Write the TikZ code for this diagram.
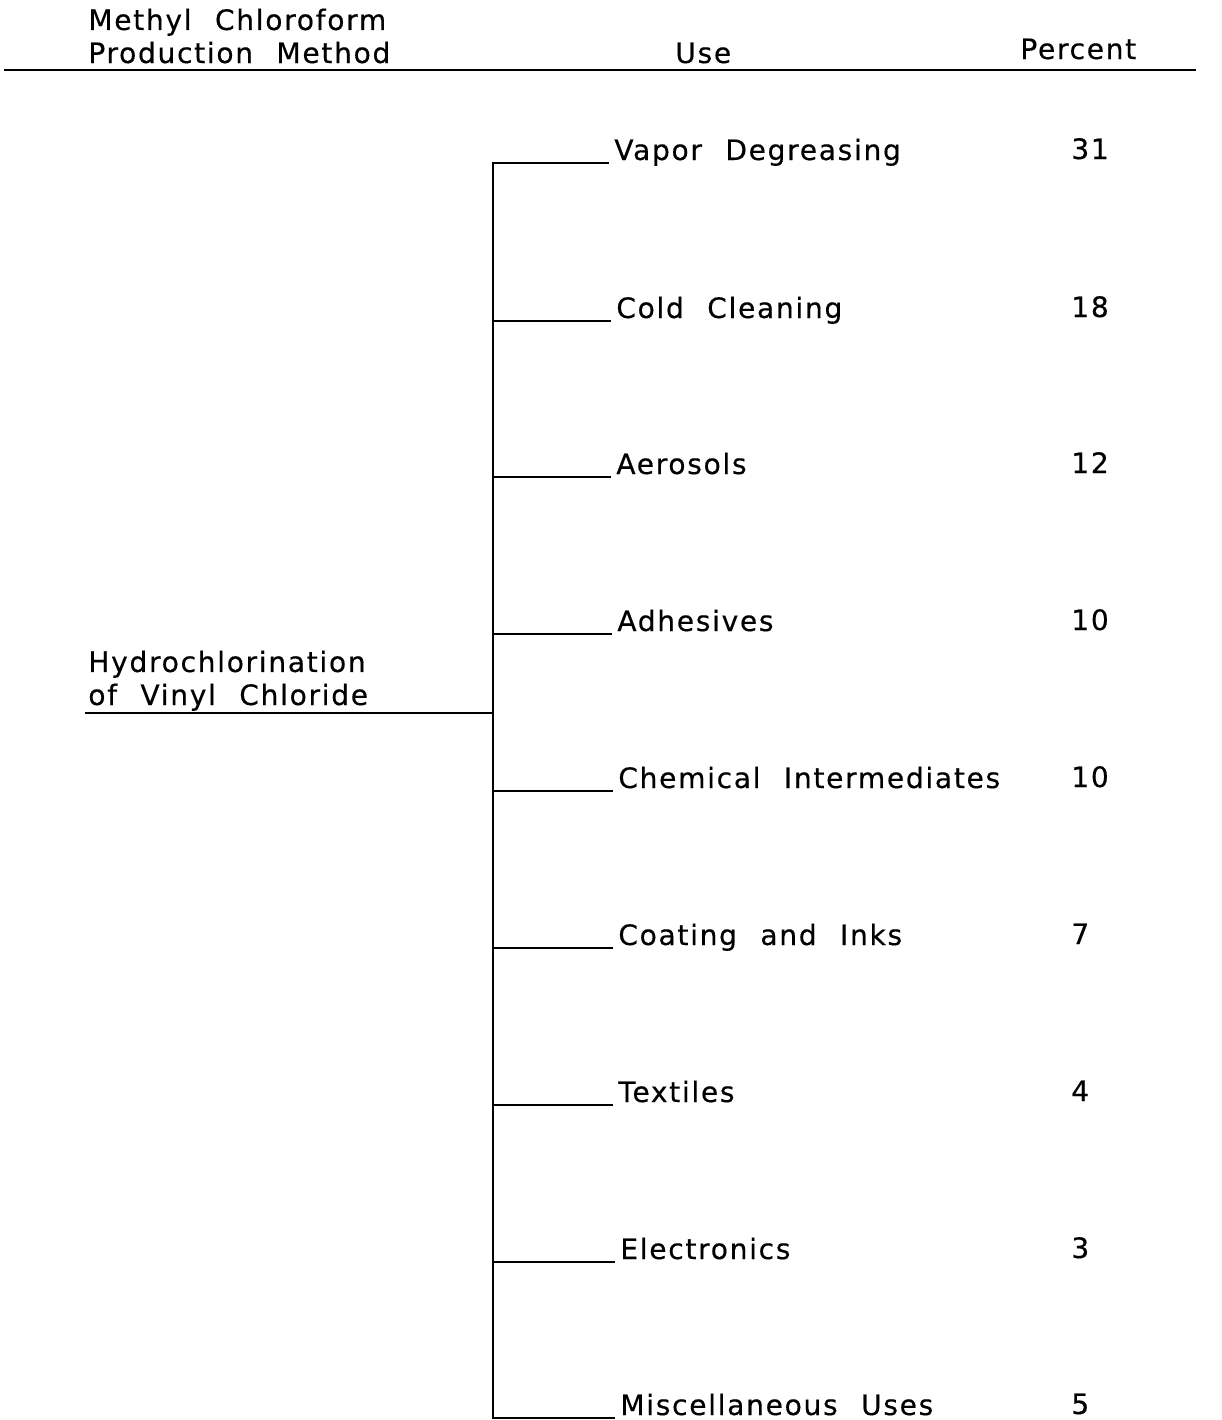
\documentclass[tikz,border=0pt]{standalone}
\usepackage{fontspec}
\setmainfont{DejaVu Sans}[WordSpace=2.2, LetterSpace=6, FakeBold=0.4]
\begin{document}
\begin{tikzpicture}[x=0.02cm,y=-0.02cm,
  txt/.style={anchor=base west, inner sep=0pt, font=\fontsize{16pt}{18.8pt}\selectfont},
  hdr/.style={txt, align=left},
  ln/.style={line width=1.2pt, line cap=rect}]
\useasboundingbox (0,0) rectangle (1221,1420);
% header
\node[hdr] (h1) at (88,63) {Methyl Chloroform\\Production Method};
\node[txt] (h2) at (675,63) {Use};
\node[txt] (h3) at (1020,59) {Percent};
\coordinate (rl) at (5,70);
\coordinate (rr) at (1195,70);
\draw[ln] (rl) -- (rr);
% source
\node[hdr] (src) at (88,705) {Hydrochlorination\\of Vinyl Chloride};
\coordinate (sl) at (86,713);
\coordinate (sj) at (493,713);
\draw[ln] (sl) -- (sj);
% trunk
\coordinate (tt) at (493,163);
\coordinate (tb) at (493,1418);
\draw[ln] (tt) -- (tb);
% branches
\foreach \n/\y/\lx/\lab/\pct in {
  a/163/614/{Vapor Degreasing}/31,
  b/321/616/{Cold Cleaning}/18,
  c/477/616/{Aerosols}/12,
  d/634/617/{Adhesives}/10,
  e/791/618/{Chemical Intermediates}/10,
  f/948/618/{Coating and Inks}/7,
  g/1105/618/{Textiles}/4,
  h/1262/620/{Electronics}/3,
  i/1418/620/{Miscellaneous Uses}/5}{
  \node[txt] (u\n) at (\lx,\y-3) {\lab};
  \node[txt] (p\n) at (1071,\y-4) {\pct};
  \coordinate (j\n) at (493,\y);
  \coordinate (e\n) at (\lx-6,\y);
  \draw[ln] (j\n) -- (e\n);
}
\end{tikzpicture}
\end{document}
